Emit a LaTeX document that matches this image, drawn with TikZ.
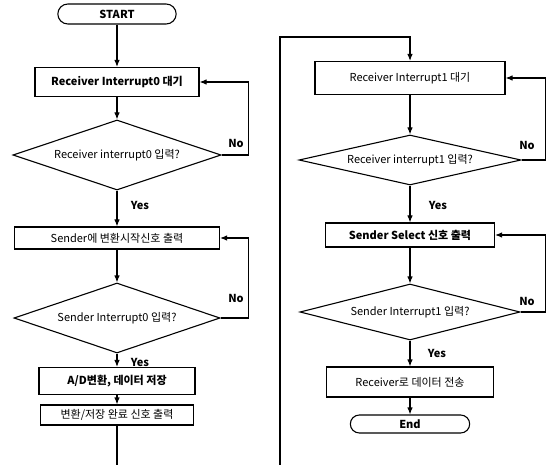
\documentclass[tikz,border=0pt]{standalone}
\usepackage{fontspec}
\setmainfont{Noto Sans CJK KR}
\usetikzlibrary{shapes.geometric,shapes.misc,arrows.meta}

\begin{document}
\begin{tikzpicture}[x=1pt, y=-1pt, line width=1.1pt, >={Latex[length=7pt,width=5.5pt]},
	every node/.style={font=\fontsize{11}{13}\selectfont},
	term/.style={rounded rectangle, draw, minimum height=20pt},
	proc/.style={rectangle, draw, inner sep=2pt},
	dec/.style={diamond, draw, inner sep=0pt},
	bold/.style={font=\fontsize{11}{13}\selectfont\bfseries}]
	\useasboundingbox (0,0) rectangle (554,465);
	% left column
	\node[term, bold, minimum width=125pt] at (117,14) (start){START};
	\node[proc, bold, minimum width=164pt, minimum height=29pt] at (117,82) (rcv0){Receiver Interrupt0 대기};
	\node[dec, aspect=3, minimum width=208pt, minimum height=70pt] at (117,155) (rin0){Receiver interrupt0 입력?};
	\node[proc, minimum width=205pt, minimum height=22pt] at (117,238) (snd0){Sender에 변환시작신호 출력};
	\node[dec, aspect=3, minimum width=206pt, minimum height=70pt] at (117,318) (sin0){Sender Interrupt0 입력?};
	\node[proc, bold, minimum width=156pt, minimum height=27pt] at (117,381) (adc){A/D변환, 데이터 저장};
	\node[proc, minimum width=153pt, minimum height=20pt] at (117,415) (done){변환/저장 완료 신호 출력};
	% right column
	\node[proc, minimum width=190pt, minimum height=33pt] at (410,78) (rcv1){Receiver Interrupt1 대기};
	\node[dec, aspect=4.4, minimum width=222pt, minimum height=50pt] at (410,160) (rin1){Receiver interrupt1 입력?};
	\node[proc, bold, minimum width=169pt, minimum height=24pt] at (410,235) (sel){Sender Select 신호 출력};
	\node[dec, aspect=3.9, minimum width=220pt, minimum height=56pt] at (410,312) (sin1){Sender Interrupt1 입력?};
	\node[proc, minimum width=167pt, minimum height=30pt] at (410,382) (send){Receiver로 데이터 전송};
	\node[term, bold, minimum width=126pt, minimum height=18pt] at (410,424) (end){End};
	% labels
	\node[bold] at (236,143) (no0){No};
	\node[bold] at (236,298) (no1){No};
	\node[bold] at (527,145) (no2){No};
	\node[bold] at (527,301) (no3){No};
	\node[bold] at (140,205) (yes0){Yes};
	\node[bold] at (140,362) (yes1){Yes};
	\node[bold] at (438,205) (yes2){Yes};
	\node[bold] at (437,353) (yes3){Yes};
	\coordinate (out) at (117,465);
	\coordinate (in) at (280,465);
	\coordinate (top) at (280,37);
	% connectors
	\draw[->] (start.south) -- (rcv0.north);
	\draw[->] (rcv0.south) -- (rin0.north);
	\draw[->] (rin0.east) -- ++(27,0) |- (rcv0.east);
	\draw[->] (rin0.south) -- (snd0.north);
	\draw[->] (snd0.south) -- (sin0.north);
	\draw[->] (sin0.east) -- ++(28,0) |- (snd0.east);
	\draw[->] (sin0.south) -- (adc.north);
	\draw[->] (adc.south) -- (done.north);
	\draw (done.south) -- (out);
	\draw[->] (in) -- (top) -| (rcv1.north);
	\draw[->] (rcv1.south) -- (rin1.north);
	\draw[->] (rin1.east) -- ++(24,0) |- (rcv1.east);
	\draw[->] (rin1.south) -- (sel.north);
	\draw[->] (sel.south) -- (sin1.north);
	\draw[->] (sin1.east) -- ++(25,0) |- (sel.east);
	\draw[->] (sin1.south) -- (send.north);
	\draw[->] (send.south) -- (end.north);
\end{tikzpicture}
\end{document}
